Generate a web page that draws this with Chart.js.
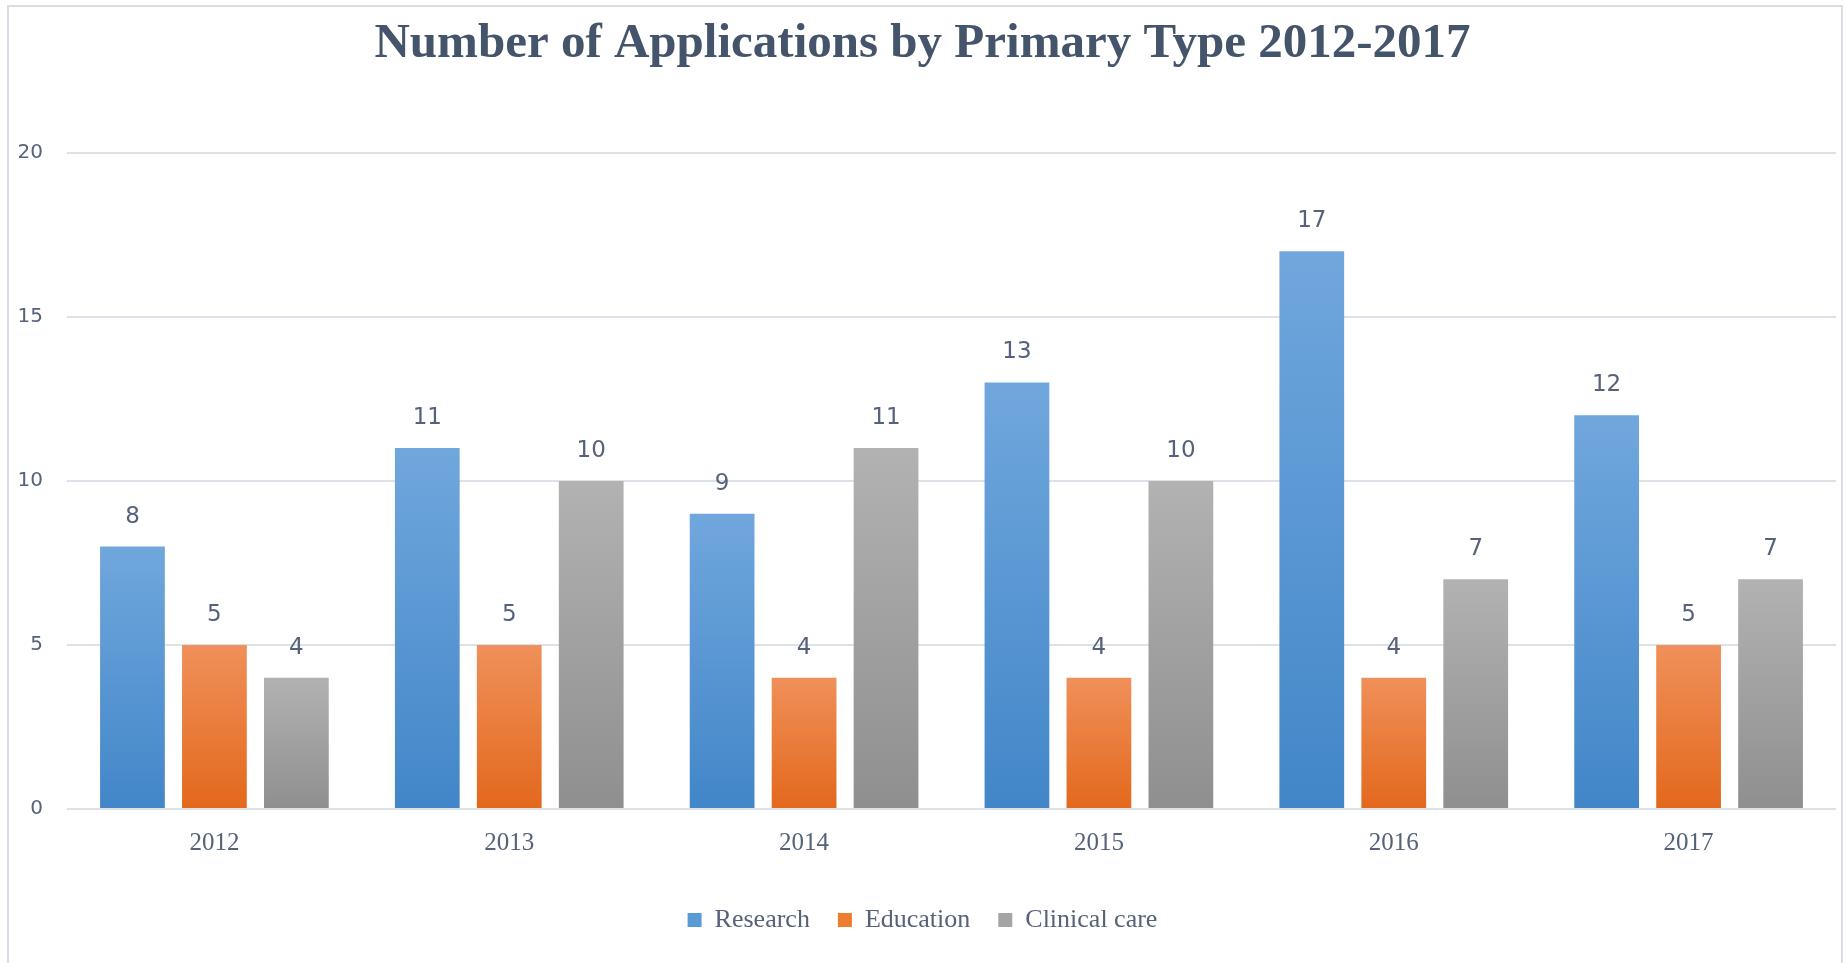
<!DOCTYPE html>
<html>
<head>
<meta charset="utf-8">
<script src="https://cdn.jsdelivr.net/npm/chart.js@4.4.1/dist/chart.umd.min.js"></script>
<style>
  html, body { margin: 0; padding: 0; background: #fff; overflow: hidden; }
  #frame {
    position: absolute; left: 7px; top: 5px;
    width: 1832px; height: 970px;
    border: 2px solid #d9dee6;
  }
  #wrap { position: relative; width: 1832px; height: 956px; }
</style>
</head>
<body>
<div id="frame"><div id="wrap"><canvas id="appsChart"></canvas></div></div>
<script>
// Data
const years = ["2012", "2013", "2014", "2015", "2016", "2017"];
const research = [8, 11, 9, 13, 17, 12];
const education = [5, 5, 4, 4, 4, 5];
const clinicalCare = [4, 10, 11, 10, 7, 7];
const yTicks = [0, 5, 10, 15, 20];

const textColor = "#56627a";

// per-bar vertical gradient, light at top, darker at the base
function barGradient(top, bottom) {
  return (ctx) => {
    const chart = ctx.chart;
    if (!chart.chartArea || ctx.type !== "data") return bottom;
    const y = chart.scales.y;
    const v = ctx.raw;
    const y0 = y.getPixelForValue(0);
    const y1 = y.getPixelForValue(v);
    if (!isFinite(y0) || !isFinite(y1) || y0 === y1) return bottom;
    const g = chart.ctx.createLinearGradient(0, y1, 0, y0);
    g.addColorStop(0, top);
    g.addColorStop(1, bottom);
    return g;
  };
}

const solid = ["#5b9bd5", "#ed7d31", "#a5a5a5"];

// value labels above each bar
const valueLabels = {
  id: "valueLabels",
  afterDatasetsDraw(chart) {
    const ctx = chart.ctx;
    ctx.save();
    ctx.font = "23px 'DejaVu Sans'";
    ctx.fillStyle = textColor;
    ctx.textAlign = "center";
    ctx.textBaseline = "alphabetic";
    chart.data.datasets.forEach((ds, i) => {
      chart.getDatasetMeta(i).data.forEach((bar, j) => {
        ctx.fillText(String(ds.data[j]), bar.x, bar.y - 24);
      });
    });
    ctx.restore();
  }
};

new Chart(document.getElementById("appsChart"), {
  type: "bar",
  data: {
    labels: years,
    datasets: [
      { label: "Research", data: research, backgroundColor: barGradient("#70a7dd", "#4286c8") },
      { label: "Education", data: education, backgroundColor: barGradient("#f0905a", "#e3681c") },
      { label: "Clinical care", data: clinicalCare, backgroundColor: barGradient("#b2b2b2", "#8f8f8f") }
    ]
  },
  options: {
    responsive: true,
    maintainAspectRatio: false,
    animation: false,
    layout: { padding: { left: 0, right: 5, top: 0, bottom: 20 } },
    datasets: { bar: { categoryPercentage: 0.834, barPercentage: 0.79 } },
    plugins: {
      title: {
        display: true,
        text: "Number of Applications by Primary Type 2012-2017",
        color: "#44546a",
        font: { family: "'Liberation Serif', serif", size: 49, weight: "bold" },
        padding: { top: 8, bottom: 79 }
      },
      legend: {
        position: "bottom",
        labels: {
          color: textColor,
          font: { family: "'Liberation Serif', serif", size: 26 },
          boxWidth: 14,
          boxHeight: 14,
          padding: 28,
          generateLabels(chart) {
            return chart.data.datasets.map((ds, i) => ({
              text: ds.label,
              fillStyle: solid[i],
              strokeStyle: solid[i],
              lineWidth: 0,
              fontColor: textColor,
              datasetIndex: i
            }));
          }
        }
      },
      tooltip: { enabled: false }
    },
    scales: {
      x: {
        grid: { display: false },
        border: { display: false },
        afterFit(scale) { scale.height += 10; },
        ticks: {
          color: textColor,
          font: { family: "'Liberation Serif', serif", size: 25 },
          padding: 11
        }
      },
      y: {
        min: 0,
        max: 20,
        afterBuildTicks(scale) { scale.ticks = yTicks.map(v => ({ value: v })); },
        afterFit(scale) { scale.width = 58; },
        grid: { color: "#dde1e8", lineWidth: 2, drawTicks: false },
        border: { display: false },
        ticks: {
          color: textColor,
          font: { family: "'DejaVu Sans'", size: 20 },
          padding: 24
        }
      }
    }
  },
  plugins: [valueLabels]
});
</script>
</body>
</html>
